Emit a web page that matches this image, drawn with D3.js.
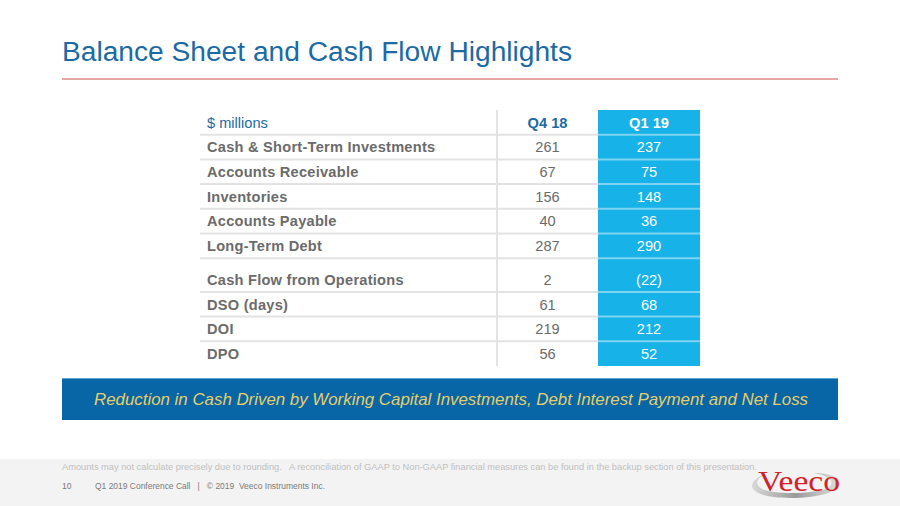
<!DOCTYPE html>
<html><head><meta charset="utf-8">
<script src="https://cdn.jsdelivr.net/npm/d3@7"></script>
<style>html,body{margin:0;padding:0;background:#fff;}svg{display:block;font-family:"Liberation Sans",Arial,sans-serif;}text{white-space:pre;}</style>
</head><body>
<svg id="c" width="900" height="506"></svg>
<script>
const title = "Balance Sheet and Cash Flow Highlights";
const unitLabel = "$ millions";
const periods = ["Q4 18", "Q1 19"];
const rowLabels = ["Cash & Short-Term Investments","Accounts Receivable","Inventories","Accounts Payable","Long-Term Debt","Cash Flow from Operations","DSO (days)","DOI","DPO"];
const q4Values = ["261","67","156","40","287","2","61","219","56"];
const q1Values = ["237","75","148","36","290","(22)","68","212","52"];
const groupBreakBefore = "Cash Flow from Operations";
const banner = "Reduction in Cash Driven by Working Capital Investments, Debt Interest Payment and Net Loss";
const footnote = "Amounts may not calculate precisely due to rounding.   A reconciliation of GAAP to Non-GAAP financial measures can be found in the backup section of this presentation.";
const pageNum = "10";
const footer = "Q1 2019 Conference Call   |   \u00a9 2019  Veeco Instruments Inc.";

(function(){
const svg = d3.select("#c");
const blue = "#1B6AA5", cyan = "#17B2E7", grey = "#6B6B6B";
const fs = 14.6;

// title
svg.append("text").attr("x",62).attr("y",61).attr("fill",blue)
  .attr("font-size",27).text(title)
  .attr("textLength",510).attr("lengthAdjust","spacingAndGlyphs");
svg.append("line").attr("x1",62).attr("x2",838).attr("y1",79).attr("y2",79)
  .attr("stroke","#DE8A86").attr("stroke-width",1.3);

// table
const rows = ["__header__"].concat(rowLabels);
const gap = 9;
const tTop = 110, tBottom = 366;
const y = d3.scaleBand().domain(rows).range([tTop, tBottom - gap]);
const breakIdx = rows.indexOf(groupBreakBefore);
const yTop = r => y(r) + (rows.indexOf(r) >= breakIdx ? gap : 0);
const x = d3.scaleOrdinal().domain(["label"].concat(periods)).range([200, 497, 598]);
const colEnd = {"label":497}; colEnd[periods[0]] = 598; colEnd[periods[1]] = 700;
const cx = p => (x(p) + colEnd[p]) / 2;

svg.append("rect").attr("x",x(periods[1])).attr("y",tTop)
  .attr("width",colEnd[periods[1]]-x(periods[1])).attr("height",tBottom-tTop).attr("fill",cyan);

rows.slice(1).forEach(r=>{
  const i = rows.indexOf(r);
  const yy = i === breakIdx ? y(r) : yTop(r);
  svg.append("line").attr("x1",200).attr("x2",x(periods[1])).attr("y1",yy).attr("y2",yy)
    .attr("stroke","#E3E3E3").attr("stroke-width",2);
  svg.append("line").attr("x1",x(periods[1])).attr("x2",colEnd[periods[1]]).attr("y1",yy).attr("y2",yy)
    .attr("stroke","#7FD3F1").attr("stroke-width",2);
});
svg.append("line").attr("x1",x(periods[0])).attr("x2",x(periods[0])).attr("y1",tTop).attr("y2",tBottom)
  .attr("stroke","#E3E3E3").attr("stroke-width",2);

const bw = y.bandwidth();
const off = 5.3;
svg.append("text").attr("x",207).attr("y",tTop+bw/2+off).attr("fill",blue).attr("font-size",fs).text(unitLabel);
svg.append("text").attr("x",cx(periods[0])).attr("y",tTop+bw/2+off).attr("text-anchor","middle")
  .attr("fill",blue).attr("font-weight","bold").attr("font-size",fs).text(periods[0]);
svg.append("text").attr("x",cx(periods[1])).attr("y",tTop+bw/2+off).attr("text-anchor","middle")
  .attr("fill","#fff").attr("font-weight","bold").attr("font-size",fs).text(periods[1]);

rowLabels.forEach((lab,i)=>{
  const yy = yTop(lab) + bw/2 + off;
  svg.append("text").attr("x",207).attr("y",yy).attr("fill",grey).attr("font-weight","bold")
    .attr("font-size",fs).attr("letter-spacing",0.25).text(lab);
  svg.append("text").attr("x",cx(periods[0])).attr("y",yy).attr("text-anchor","middle")
    .attr("fill",grey).attr("font-size",fs).text(q4Values[i]);
  svg.append("text").attr("x",cx(periods[1])).attr("y",yy).attr("text-anchor","middle")
    .attr("fill","#fff").attr("font-size",fs).text(q1Values[i]);
});

// banner
svg.append("rect").attr("x",62).attr("y",378).attr("width",776).attr("height",42).attr("fill","#0865A6");
svg.append("line").attr("x1",62).attr("x2",838).attr("y1",378.5).attr("y2",378.5).attr("stroke","#5AA4D6").attr("stroke-width",1);
svg.append("text").attr("x",451).attr("y",405).attr("text-anchor","middle").attr("fill","#E4CF6A")
  .attr("font-style","italic").attr("font-size",16.5).text(banner)
  .attr("textLength",714).attr("lengthAdjust","spacingAndGlyphs");

// footer
svg.append("rect").attr("x",0).attr("y",459).attr("width",900).attr("height",47).attr("fill","#F3F3F3");
svg.append("text").attr("x",62).attr("y",470).attr("fill","#C0C0C0").attr("font-size",9).text(footnote)
  .attr("textLength",695).attr("lengthAdjust","spacingAndGlyphs");
svg.append("text").attr("x",62).attr("y",489).attr("fill","#7A7A7A").attr("font-size",8.5).text(pageNum);
svg.append("text").attr("x",95).attr("y",489).attr("fill","#7A7A7A").attr("font-size",8.5).text(footer)
  .attr("textLength",230).attr("lengthAdjust","spacingAndGlyphs");

// logo
const defs = svg.append("defs");
const gr = defs.append("linearGradient").attr("id","sw").attr("x1","0").attr("x2","1");
gr.append("stop").attr("offset","0").attr("stop-color","#D8D8D8");
gr.append("stop").attr("offset","0.5").attr("stop-color","#9A9A9A");
gr.append("stop").attr("offset","1").attr("stop-color","#E0E0E0");
const lg = svg.append("g");
lg.append("path").attr("d","M766,474 C742,483 748,498 790,498 C828,498 846,488 838,479 C834,475 824,473 814,473 C830,476 836,482 828,488 C816,494 774,495 762,489 C754,484 756,478 766,474 Z")
  .attr("fill","url(#sw)");
lg.append("text").attr("x",758).attr("y",491).attr("fill","#D2232A")
  .attr("font-family","'Liberation Serif','Times New Roman',serif").attr("font-size",30).text("Veeco")
  .attr("textLength",82).attr("lengthAdjust","spacingAndGlyphs");
})();
</script>
</body></html>
